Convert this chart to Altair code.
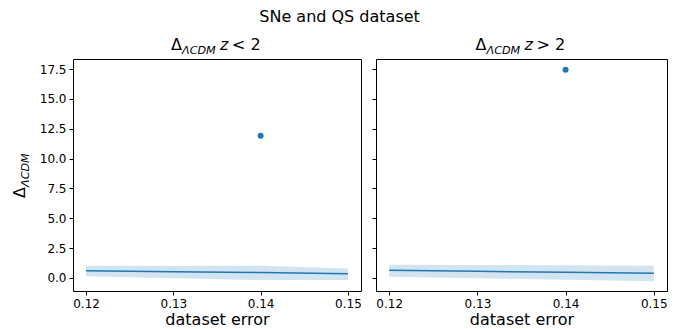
import altair as alt
import pandas as pd

# ---- data ----
dataset_error = [0.12, 0.13, 0.14, 0.15]
lowz_mean = [0.61, 0.53, 0.45, 0.36]
lowz_lower = [0.14, -0.03, -0.17, -0.17]
lowz_upper = [1.03, 1.03, 1.03, 0.80]
highz_mean = [0.64, 0.56, 0.47, 0.39]
highz_lower = [0.11, -0.02, -0.15, -0.28]
highz_upper = [1.11, 1.09, 1.06, 1.03]
outlier_error = [0.14]
lowz_outlier = [11.92]
highz_outlier = [17.45]

x_ticks = [0.12, 0.13, 0.14, 0.15]
y_ticks = [0.0, 2.5, 5.0, 7.5, 10.0, 12.5, 15.0, 17.5]

BLUE = "#1f77b4"
FONT = "DejaVu Sans"
H = 232

xscale = alt.Scale(domain=[0.1185, 0.1515], nice=False, zero=False)
yscale = alt.Scale(domain=[-1.09, 18.34], nice=False, zero=False)


def txt(s, x, y, size=16, italic=False, angle=0):
    kw = dict(text=s, font=FONT, fontSize=size, align="left",
              baseline="alphabetic", color="black")
    if italic:
        kw["fontStyle"] = "italic"
    if angle:
        kw["angle"] = angle
    return alt.Chart(pd.DataFrame({"k": [0]})).mark_text(**kw).encode(
        x=alt.value(x), y=alt.value(y))


def panel(mean, lo, hi, out, rel, first, width):
    df = pd.DataFrame({"err": dataset_error, "mean": mean, "lo": lo, "hi": hi})
    dfo = pd.DataFrame({"err": outlier_error, "val": out})
    xaxis = alt.Axis(values=x_ticks, format=".2f", title="dataset error",
                     titleFontSize=16, titleFontWeight="normal", titleFont=FONT,
                     titleColor="black", titlePadding=2)
    yaxis = alt.Axis(values=y_ticks, tickCount=len(y_ticks), format=".1f",
                     labels=first, title=None, labelOverlap=False,
                     labelFlush=False)
    X = lambda f: alt.X(f, type="quantitative", scale=xscale, axis=xaxis)
    Y = lambda f: alt.Y(f, type="quantitative", scale=yscale, axis=yaxis)
    band = alt.Chart(df).mark_area(color=BLUE, opacity=0.2).encode(
        x=X("err"), y=Y("lo"), y2="hi:Q")
    line = alt.Chart(df).mark_line(color=BLUE, strokeWidth=1.5).encode(
        x=X("err"), y=Y("mean"))
    pts = alt.Chart(dfo).mark_circle(color=BLUE, size=36, opacity=1).encode(
        x=X("err"), y=Y("val"))
    x0 = width / 2 - 46
    texts = [
        txt("Δ", x0, -9),
        txt("ΛCDM", x0 + 11, -5.5, size=11.2, italic=True),
        txt("z", x0 + 49, -9, italic=True),
        txt(rel + " 2", x0 + 61, -9),
    ]
    if first:
        texts += [
            txt("Δ", -48, 139, angle=270),
            txt("ΛCDM", -44.5, 128, size=11.2, italic=True, angle=270),
        ]
    return alt.layer(band, line, pts, *texts).properties(width=width, height=H)


left = panel(lowz_mean, lowz_lower, lowz_upper, lowz_outlier, "<", True, 288)
right = panel(highz_mean, highz_lower, highz_upper, highz_outlier, ">", False, 291)

chart = alt.hconcat(left, right, spacing=9).properties(
    title=alt.TitleParams("SNe and QS dataset", fontSize=16, fontWeight="normal",
                          font=FONT, anchor="middle", color="black", offset=12),
    padding={"left": 11, "top": 8, "right": 5, "bottom": 0},
).configure_view(stroke="black", strokeWidth=1).configure_axis(
    domain=False, grid=False, tickColor="black", tickSize=4, tickWidth=1,
    labelFontSize=12, labelFont=FONT, labelColor="black", labelPadding=3,
)

chart.save("out.html", embed_options={"renderer": "svg", "actions": False})
